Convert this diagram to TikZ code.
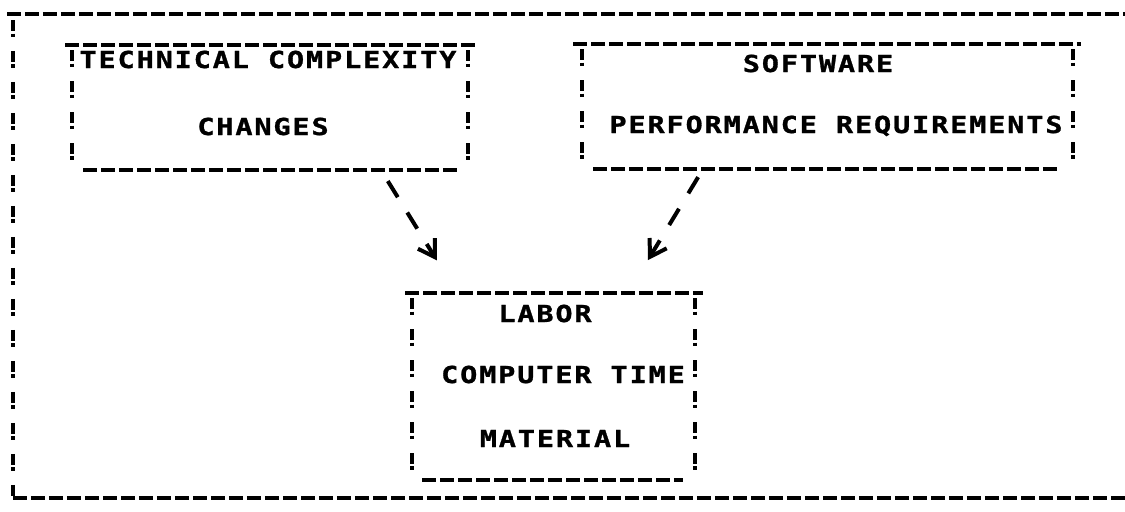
\documentclass[tikz,border=0pt]{standalone}
\usepackage{fontspec}
\usetikzlibrary{positioning,arrows.meta,calc}
\newfontfamily\printfont[FakeStretch=1.22, LetterSpace=8.0, FakeBold=1.2]{DejaVu Sans Mono}

\begin{document}
\begin{tikzpicture}[
    x=0.02cm, y=-0.02cm,
    box/.style={inner sep=0pt, outer sep=0pt},
    lbl/.style={inner sep=0pt, anchor=base, font=\printfont\bfseries\fontsize{13.3}{16}\selectfont},
    hrule/.style={line width=0.08cm, dash pattern=on 0.28cm off 0.08cm},
    vrule/.style={line width=0.07cm, dash pattern=on 0.22cm off 0.05cm on 0.07cm off 0.28cm},
    arr/.style={-{Straight Barb[length=0.32cm, width=0.4cm, line width=0.08cm]}, line width=0.08cm, dash pattern=on 0.38cm off 0.36cm}
]
    \useasboundingbox (0,0) rectangle (1125,511);

    % Outer frame
    \draw[hrule] (7,14) -- (1125,14);
    \draw[vrule] (13,20) -- (13,498);
    \draw[hrule] (13,498) -- (1125,498);

    % Boxes
    \node[box, minimum width=7.92cm, minimum height=2.5cm] (tech) at (270,107.5) {};
    \node[box, minimum width=9.82cm, minimum height=2.5cm] (soft) at (827.5,106.5) {};
    \node[box, minimum width=5.66cm, minimum height=3.74cm] (cost) at (553.5,386.5) {};

    \foreach \b/\l/\r/\bl/\br in {tech/-7/7/11/-11, soft/-9/8/11/-13, cost/-7/8/10/-12} {
        \draw[hrule] ($(\b.north west)+(\l,0)$) -- ($(\b.north east)+(\r,0)$);
        \draw[hrule] ($(\b.south west)+(\bl,0)$) -- ($(\b.south east)+(\br,0)$);
        \draw[vrule] ($(\b.north west)+(0,5)$) -- ($(\b.south west)+(0,-3)$);
        \draw[vrule] ($(\b.north east)+(0,5)$) -- ($(\b.south east)+(0,-3)$);
    }

    % Labels
    \node[lbl] (tech1) at (268,68) {TECHNICAL COMPLEXITY};
    \node[lbl] (tech2) at (263,135) {CHANGES};
    \node[lbl] (soft1) at (818,72) {SOFTWARE};
    \node[lbl] (soft2) at (836,133) {PERFORMANCE REQUIREMENTS};
    \node[lbl] (cost1) at (545,322) {LABOR};
    \node[lbl] (cost2) at (563,383) {COMPUTER TIME};
    \node[lbl] (cost3) at (555,447) {MATERIAL};

    % Connections
    \draw[arr, shorten <=0.26cm, shorten >=0.77cm] ($(tech.south east)+(-87,0)$) -- ($(cost.north west)+(45,0)$);
    \draw[arr, shorten <=0.19cm, shorten >=0.77cm] ($(soft.south west)+(121,0)$) -- ($(cost.north west)+(216,0)$);
\end{tikzpicture}
\end{document}
